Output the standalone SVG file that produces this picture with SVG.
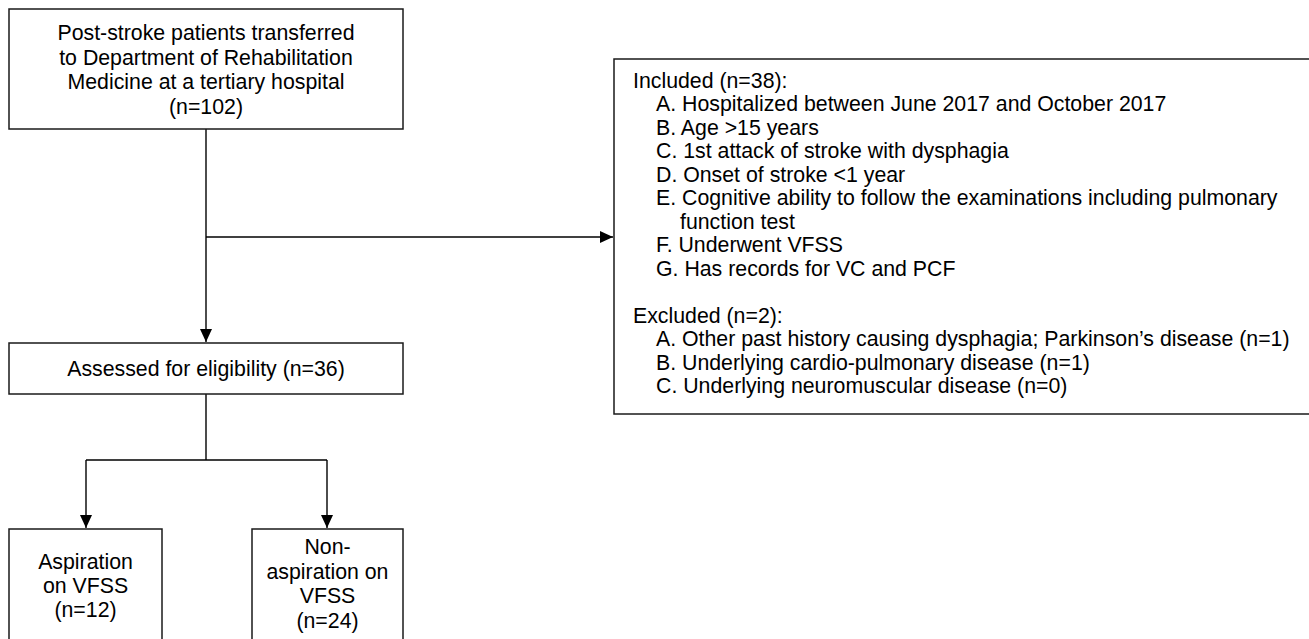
<svg xmlns="http://www.w3.org/2000/svg" width="1309" height="639" viewBox="0 0 1309 639">
<style>
.box{fill:#fff;stroke:#1a1a1a;stroke-width:1.5}
.t{font-family:"Liberation Sans",Arial,sans-serif;font-size:21.3px;fill:#000}
.c{text-anchor:middle}
.ln{fill:none;stroke:#000;stroke-width:1.4}
</style>
<defs>
<marker id="arr" markerUnits="userSpaceOnUse" markerWidth="14" markerHeight="14" viewBox="0 0 14 14" refX="13" refY="7" orient="auto">
<path d="M0,1 L13,7 L0,13 Z" fill="#000"/>
</marker>
</defs>
<rect width="1309" height="639" fill="#fff"/>
<g id="connectors">
<path class="ln" d="M206,129 V342" marker-end="url(#arr)"/>
<path class="ln" d="M206,237 H613" marker-end="url(#arr)"/>
<path class="ln" d="M206,394 V460 M86,460 H327"/>
<path class="ln" d="M86,460 V528" marker-end="url(#arr)"/>
<path class="ln" d="M327,460 V528" marker-end="url(#arr)"/>
</g>
<g id="n_top">
<rect class="box" x="9" y="9" width="394" height="120"/>
<text class="t c" x="206" y="40">Post-stroke patients transferred</text>
<text class="t c" x="206" y="65">to Department of Rehabilitation</text>
<text class="t c" x="206" y="89">Medicine at a tertiary hospital</text>
<text class="t c" x="206" y="114">(n=102)</text>
</g>
<g id="n_criteria">
<rect class="box" x="614" y="59" width="720" height="355"/>
<text class="t" x="633" y="87.5">Included (n=38):</text>
<text class="t" x="656" y="111">A. Hospitalized between June 2017 and October 2017</text>
<text class="t" x="656" y="134.5">B. Age &gt;15 years</text>
<text class="t" x="656" y="158">C. 1st attack of stroke with dysphagia</text>
<text class="t" x="656" y="181.5">D. Onset of stroke &lt;1 year</text>
<text class="t" x="656" y="205">E. Cognitive ability to follow the examinations including pulmonary</text>
<text class="t" x="680" y="228.5">function test</text>
<text class="t" x="656" y="252">F. Underwent VFSS</text>
<text class="t" x="656" y="275.5">G. Has records for VC and PCF</text>
<text class="t" x="633" y="322.5">Excluded (n=2):</text>
<text class="t" x="656" y="346">A. Other past history causing dysphagia; Parkinson’s disease (n=1)</text>
<text class="t" x="656" y="369.5">B. Underlying cardio-pulmonary disease (n=1)</text>
<text class="t" x="656" y="393">C. Underlying neuromuscular disease (n=0)</text>
</g>
<g id="n_assessed">
<rect class="box" x="9" y="343" width="394" height="51"/>
<text class="t c" x="206" y="376">Assessed for eligibility (n=36)</text>
</g>
<g id="n_asp">
<rect class="box" x="9" y="529" width="153" height="130"/>
<text class="t c" x="85.5" y="569">Aspiration</text>
<text class="t c" x="85.5" y="593">on VFSS</text>
<text class="t c" x="85.5" y="617">(n=12)</text>
</g>
<g id="n_nonasp">
<rect class="box" x="252" y="529" width="151" height="130"/>
<text class="t c" x="327.5" y="554">Non-</text>
<text class="t c" x="327.5" y="578.5">aspiration on</text>
<text class="t c" x="327.5" y="603">VFSS</text>
<text class="t c" x="327.5" y="627.5">(n=24)</text>
</g>
</svg>
